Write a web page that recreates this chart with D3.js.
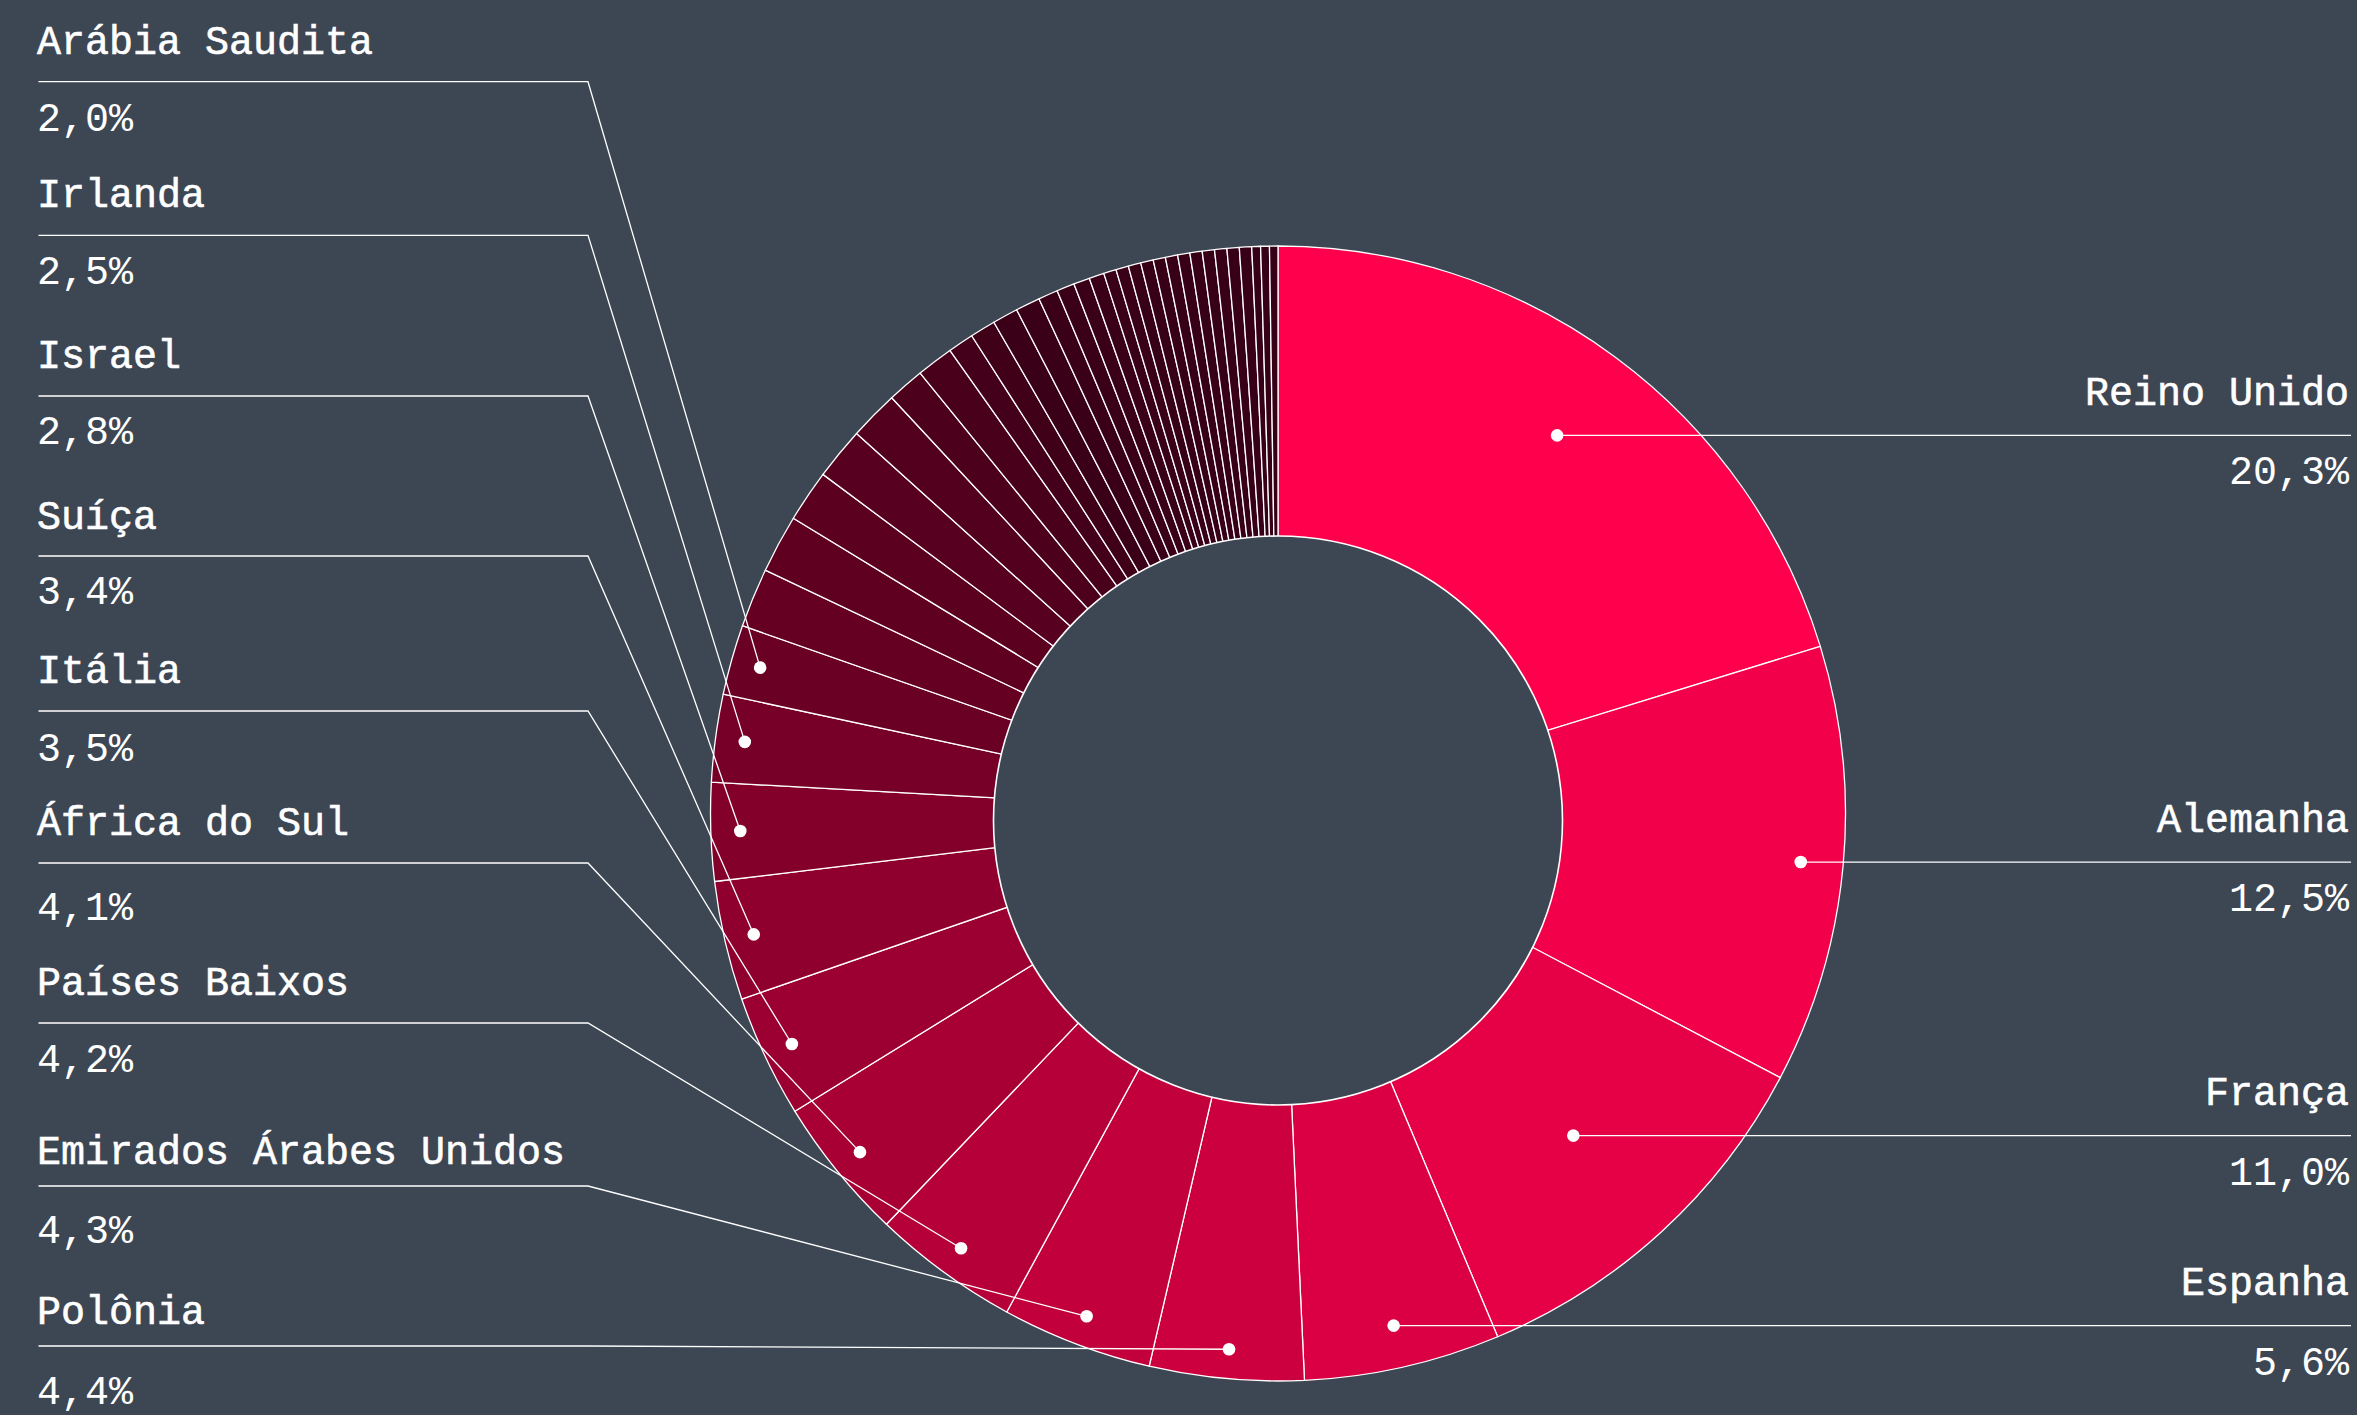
<!DOCTYPE html>
<html>
<head>
<meta charset="utf-8">
<script src="https://cdn.jsdelivr.net/npm/d3@7"></script>
<style>
  html, body { margin: 0; padding: 0; background: #3d4754; }
  svg { display: block; }
  text { font-family: "Liberation Mono", "DejaVu Sans Mono", monospace; fill: #ffffff; font-size: 40px; }
  .name { stroke: #ffffff; stroke-width: 0.6px; }
</style>
</head>
<body>
<svg id="chart" width="2357" height="1415"></svg>
<script>
// Share by country (%), largest first; these are the labelled slices
const categories = [
  "Reino Unido", "Alemanha", "França", "Espanha", "Polônia",
  "Emirados Árabes Unidos", "Países Baixos", "África do Sul", "Itália",
  "Suíça", "Israel", "Irlanda", "Arábia Saudita"
];
const shares = [20.3, 12.5, 11.0, 5.6, 4.4, 4.3, 4.2, 4.1, 3.5, 3.4, 2.8, 2.5, 2.0];

// Remaining countries, unlabelled (%)
const otherShares = [
  1.69, 1.66, 1.49, 1.49, 1.41, 1.06, 1.05, 0.74, 0.73, 0.73,
  0.70, 0.56, 0.51, 0.46, 0.43, 0.36, 0.36, 0.36, 0.36, 0.35,
  0.35, 0.35, 0.35, 0.35, 0.35, 0.35, 0.35, 0.25, 0.25, 0.24
];

// Which labelled slices go on the right-hand side
const rightSide = ["Reino Unido", "Alemanha", "França", "Espanha"];

// ---- layout ----
const cx = 1278, cy = 813.5;
const outerR = 567.5;
const holeR = 284.5, holeDy = 7;

// left column: label rows from top to bottom
const leftOrder = ["Arábia Saudita", "Irlanda", "Israel", "Suíça", "Itália",
                   "África do Sul", "Países Baixos", "Emirados Árabes Unidos", "Polônia"];
const leftLineY  = [81.7, 235.3, 396, 556, 711, 863, 1023, 1186, 1346];
const leftNameY  = [54, 207, 368, 529, 683, 835, 994.5, 1164, 1324];
const leftValueY = [130.7, 284, 444, 604, 761, 920, 1072, 1243, 1404];
const leftDotR = 538;
const leftX = 38.5, elbowX = 588;

// right column: dot distance from centre for each label
const rightDotR = [470, 525, 437, 525];
const rightEndX = 2351;

const fmt = v => d3.format(".1f")(v).replace(".", ",") + "%";

const slices = categories.map((c, i) => ({ name: c, value: shares[i] }))
  .concat(otherShares.map(v => ({ name: null, value: v })));

const pie = d3.pie().sort(null).value(d => d.value);
const arcs = pie(slices);

const arc = d3.arc().innerRadius(0).outerRadius(outerR);

const color = d3.scaleLinear()
  .domain([0, 12, 22, slices.length - 1])
  .range(["#ff004d", "#6a0024", "#3a0017", "#360016"])
  .interpolate(d3.interpolateRgb)
  .clamp(true);

const svg = d3.select("#chart");
const g = svg.append("g").attr("transform", `translate(${cx},${cy})`);

// slices
g.selectAll("path.slice")
  .data(arcs)
  .join("path")
  .attr("class", "slice")
  .attr("d", arc)
  .attr("fill", (d, i) => color(i))
  .attr("stroke", "#ffffff")
  .attr("stroke-width", 1.3)
  .attr("stroke-linejoin", "round");

// centre hole
g.append("circle")
  .attr("cx", 0)
  .attr("cy", holeDy)
  .attr("r", holeR)
  .attr("fill", "#3d4754")
  .attr("stroke", "#ffffff")
  .attr("stroke-width", 1.6);

const midAngle = d => (d.startAngle + d.endAngle) / 2;
const byName = new Map(arcs.filter(d => d.data.name).map(d => [d.data.name, d]));

const ann = svg.append("g");

// left labels
leftOrder.forEach((name, i) => {
  const d = byName.get(name);
  const [px, py] = d3.pointRadial(midAngle(d), leftDotR);
  const dx = cx + px, dy = cy + py;
  const ly = leftLineY[i];
  ann.append("path")
    .attr("d", `M${leftX},${ly}H${elbowX}L${dx},${dy}`)
    .attr("fill", "none")
    .attr("stroke", "#ffffff")
    .attr("stroke-width", 1.3);
  ann.append("circle").attr("cx", dx).attr("cy", dy).attr("r", 6.3).attr("fill", "#ffffff");
  ann.append("text").attr("class", "name").attr("x", 37).attr("y", leftNameY[i]).text(name);
  ann.append("text").attr("class", "value").attr("x", 37).attr("y", leftValueY[i]).text(fmt(d.data.value));
});

// right labels
rightSide.forEach((name, i) => {
  const d = byName.get(name);
  const [px, py] = d3.pointRadial(midAngle(d), rightDotR[i]);
  const dx = cx + px, dy = cy + py;
  ann.append("path")
    .attr("d", `M${dx},${dy}H${rightEndX}`)
    .attr("fill", "none")
    .attr("stroke", "#ffffff")
    .attr("stroke-width", 1.3);
  ann.append("circle").attr("cx", dx).attr("cy", dy).attr("r", 6.3).attr("fill", "#ffffff");
  ann.append("text").attr("class", "name").attr("x", 2349).attr("y", dy - 30.5)
    .attr("text-anchor", "end").text(name);
  ann.append("text").attr("class", "value").attr("x", 2349).attr("y", dy + 49)
    .attr("text-anchor", "end").text(fmt(d.data.value));
});
</script>
</body>
</html>
